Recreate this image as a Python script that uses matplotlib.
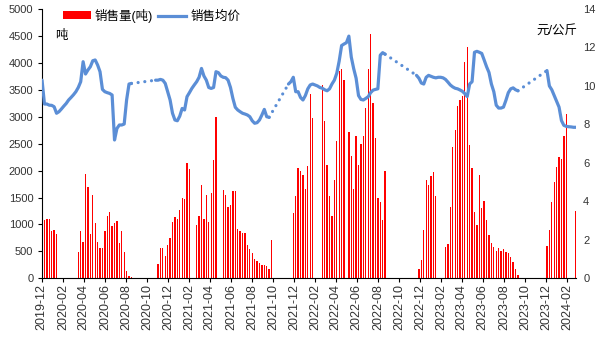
import numpy as np
import pandas as pd
import matplotlib
matplotlib.use('Agg')
import matplotlib.pyplot as plt
import matplotlib.dates as mdates
from matplotlib.patches import Patch
from matplotlib.lines import Line2D

plt.rcParams['font.family'] = ['Liberation Sans', 'Noto Sans CJK SC']

# semanas desde 2019-12-02, None = sin dato
start = '2019-12-02'

vol = [
    1170, 1080, 1110, 1110, 870, 890, 820,                      # 0-6
    None, None, None, None, None, None, None, None,              # 7-14
    480, 870, 670, 1930, 1690, 820, 1540, 1020, 670, 560,        # 15-24
    560, 870, 1150, 1230, 970, 1020, 1060, 650, 870, 480,        # 25-34
    140, 50, 30,                                                 # 35-37
    None, None, None, None, None, None, None, None, None, None,  # 38-47
    260, 570, 560, 410, 610, 740, 1040, 1130, 1100, 1260,        # 48-57
    1500, 1470, 2140, 2030,                                      # 58-61
    None, None,                                                  # 62-63
    985, 1152, 1729, 1097, 1543, 1047, 1580, 2193, 2993, None,   # 64-73
    None, 1636, 1543, 1320, 1357, 1617, 1617, 911, 874, 836,     # 74-83
    836, 613, 539, 465, 353, 316, 279, 242, 242, 223,            # 84-93
    167, 706,                                                    # 94-95
    None, None, None, None, None, None, None, None,              # 96-103
    1208, 1524, 2045, 1989, 1914, 1654, 2082, 3420, 2974, None,  # 104-113
    None, None, 3587, 2918, 2100, 1524, 1152, 1822, 2546, 3848,  # 114-123
    3885, 3680, None, 2714, 2268, 1654, 2639, 2100, 2491, 2639,  # 124-133
    3160, 3885, 4535, 3253, 2602, 1487, 1413, 1078, 1989,        # 134-142
    None, None, None, None, None, None, None, None, None, None,  # 143-152
    None, None, None,                                            # 153-155
    170, 338, 895, 1825, 1732, 1898, 1973, 1527,                 # 156-163
    None, None, None,                                            # 164-166
    587, 638, 1331, 2446, 2757, 3203, 3314, 3388, 4008, 4286,    # 167-176
    2478, 2050, 1227, 988, 1920, 1300, 1430, 1080, 800, 650,     # 177-186
    580, 510, 565, 515, 540, 495, 470, 395, 300, 170,            # 187-196
    60,                                                          # 197
    None, None, None, None, None, None, None, None, None, None,  # 198-207
    None,                                                        # 208
    595, 895, 1416, 1790, 2063, 2249, 2212, 2639, 3048,          # 209-217
    None, None, None, 1250,                                      # 218-221
]

price = [
    10.30, 9.06, 9.06, 9.00, 8.99, 8.92, 8.58, 8.66, 8.80, 8.95,    # 0-9
    9.09, 9.27, 9.40, 9.54, 9.70, 9.92, 10.22, 11.26, 10.62, 10.83,  # 10-19
    11.00, 11.31, 11.35, 11.09, 10.74, 9.82, 9.70, 9.65, 9.61, 9.53, # 20-29
    7.19, 7.79, 7.97, 7.97, 8.02, 9.27, 10.10, 10.13,                # 30-37
    None, None, None, None, None, None, None, None, None,           # 38-46
    10.30, 10.30, 10.34, 10.30, 10.13, 9.70, 9.27, 8.58, 8.23, 8.19, # 47-56
    8.43, 8.83, 8.75, 9.44, 9.65, 9.87, 10.05, 10.22, 10.45, 10.91,  # 57-66
    10.52, 10.30, 9.92, 9.87, 9.92, 10.74, 10.69, 10.52, 10.45, 10.43,  # 67-76
    10.30, 9.92, 9.35, 8.89, 8.75, 8.66, 8.58, 8.54, 8.49, 8.40,     # 77-86
    8.19, 8.06, 8.09, 8.23, 8.49, 8.78, 8.40, 8.37,                  # 87-94
    None, None, None, None, None, None, None,                       # 95-101
    10.10, 10.22, 10.45, 9.70, 9.70, 9.40, 9.27, 9.50, 9.85, 10.05,  # 102-111
    10.10, 10.05, 10.00, 9.92, 9.88, 9.80, 9.75, 9.85, 10.10, 10.30, # 112-121
    10.66, 11.30, 12.10, 12.18, 12.25, 12.59, 11.50, 10.90, 10.40, 9.50,  # 122-131
    9.30, 9.27, 9.35, 9.44, 9.65, 9.78, 9.82, 9.85, 11.60, 11.73,    # 132-141
    11.65,                                                          # 142
    None, None, None, None, None, None, None, None, None, None,     # 143-152
    None, None,                                                     # 153-154
    10.55, 10.40, 10.15, 10.10, 10.45, 10.55, 10.50, 10.45, 10.42, 10.45,  # 155-164
    10.45, 10.42, 10.34, 10.20, 10.05, 9.95, 9.88, 9.85, 9.79, 9.72, # 165-174
    9.60, 9.45, 10.10, 10.22, 11.75, 11.80, 11.75, 11.69, 11.35, 11.00,  # 175-184
    10.70, 10.10, 9.70, 9.00, 8.85, 8.85, 8.90, 9.25, 9.65, 9.85,    # 185-194
    9.90, 9.80, 9.75,                                                # 195-197
    None, None, None, None, None, None, None, None, None, None,     # 198-207
    None,                                                           # 208
    10.80, 10.00, 9.80, 9.50, 9.20, 8.90, 8.20, 7.95, 7.90, 7.88,    # 209-218
    7.87, 7.85, 7.85,                                                # 219-221
]

dates = pd.date_range(start, periods=len(vol), freq='7D')
vol_arr = np.array([np.nan if v is None else v for v in vol], dtype=float)
price_arr = np.array([np.nan if v is None else v for v in price], dtype=float)

bar_color = '#FF0000'
line_color = '#5B8ED6'
txt_color = '#333333'

fig = plt.figure(figsize=(6.05, 3.41), dpi=100)
ax = fig.add_axes([41.7 / 605, 62.7 / 341, 534.6 / 605, 269.3 / 341])
ax2 = ax.twinx()

ax.bar(dates, vol_arr, width=3.8, color=bar_color, linewidth=0)

# tramos con dato: linea continua; huecos: linea punteada
valid = ~np.isnan(price_arr)
idx = np.where(valid)[0]
runs = np.split(idx, np.where(np.diff(idx) > 1)[0] + 1)
for r in runs:
    ax2.plot(dates[r], price_arr[r], color=line_color, lw=2.3,
             solid_capstyle='round', solid_joinstyle='round')
for a, b in zip(runs[:-1], runs[1:]):
    i, j = a[-1], b[0]
    ax2.plot([dates[i], dates[j]], [price_arr[i], price_arr[j]],
             color=line_color, lw=2.3, linestyle=(0, (0.01, 2.1)),
             dash_capstyle='round')

ax.set_xlim(pd.Timestamp('2019-12-01'), pd.Timestamp('2024-02-27'))
ax.set_ylim(0, 5000)
ax.set_yticks(np.arange(0, 5001, 500))
ax2.set_ylim(0, 14)
ax2.set_yticks(np.arange(0, 15, 2))

ax.xaxis.set_major_locator(mdates.MonthLocator(bymonth=[2, 4, 6, 8, 10, 12]))
ax.xaxis.set_major_formatter(mdates.DateFormatter('%Y-%m'))
ax.tick_params(axis='x', labelrotation=90, labelsize=9, length=3,
               pad=1, colors='black', labelcolor=txt_color)
ax.tick_params(axis='y', labelsize=8, length=3, pad=3, labelcolor=txt_color)
ax2.tick_params(axis='y', labelsize=8, length=0, pad=5, labelcolor=txt_color)

for s in ['top', 'right']:
    ax.spines[s].set_visible(False)
for s in ax2.spines.values():
    s.set_visible(False)
ax.spines['left'].set_color('black')
ax.spines['bottom'].set_color('black')

ax.text(0.036, 0.9, '吨', transform=ax.transAxes, fontsize=9,
        ha='center', va='center', color='black')
ax.text(1.003, 0.918, '元/公斤', transform=ax.transAxes, fontsize=9,
        ha='right', va='center', color='black')

handles = [Patch(facecolor=bar_color, edgecolor='none'),
           Line2D([0], [0], color=line_color, lw=2.3)]
ax.legend(handles, ['销售量(吨)', '销售均价'], loc='center left',
          bbox_to_anchor=(0.04, 0.975), ncol=2, frameon=False, fontsize=9,
          borderpad=0, borderaxespad=0, handlelength=2.2, handleheight=0.6,
          handletextpad=0.35, columnspacing=0.4)

fig.savefig('out.png', dpi=100)
